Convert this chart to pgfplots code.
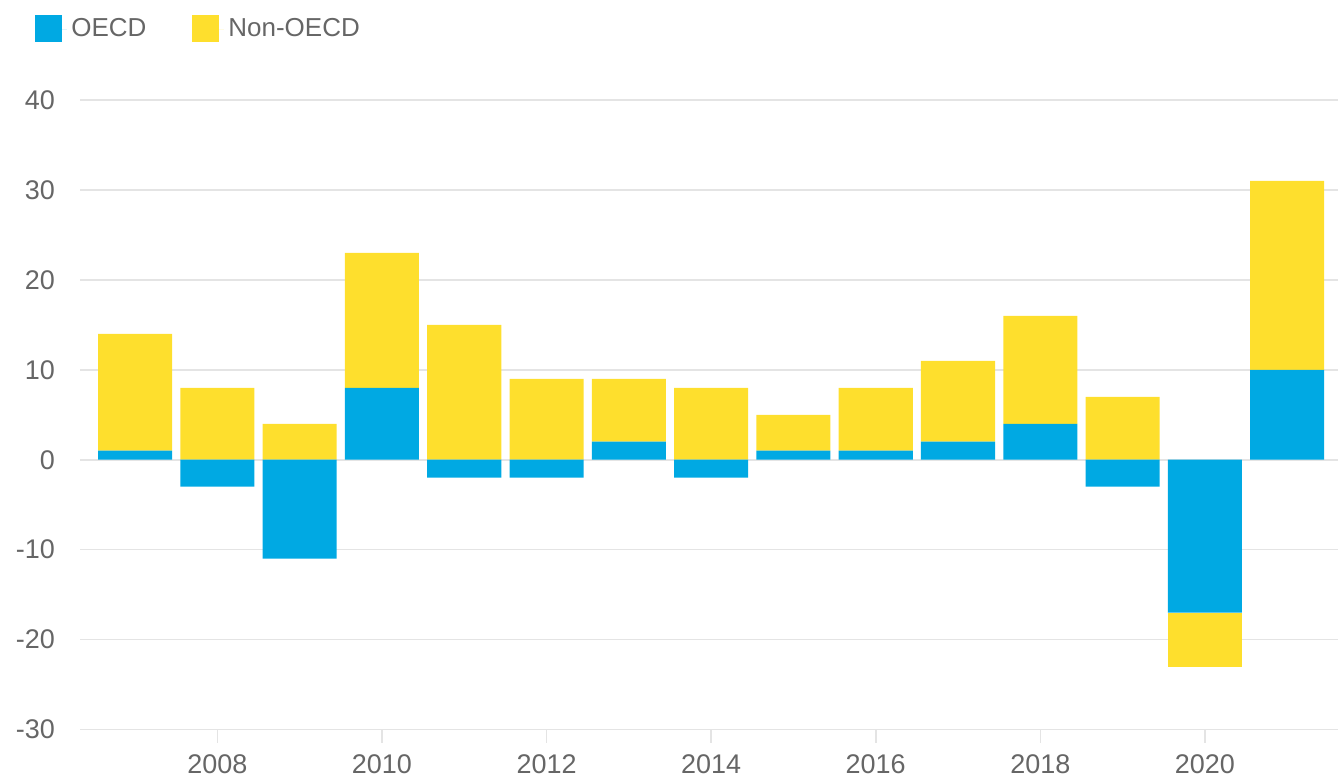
\documentclass[border=0pt]{standalone}
\usepackage{fontspec}
\setmainfont{Liberation Sans}
\usepackage{pgfplots}
\pgfplotsset{compat=1.18}
\usepackage{pgfplotstable}

\definecolor{oecdblue}{RGB}{0,169,227}
\definecolor{nonyellow}{RGB}{254,223,45}
\definecolor{txtgray}{RGB}{102,102,102}
\definecolor{gridgray}{RGB}{228,228,228}

% positive and negative parts, each stacked on its own from zero
\pgfplotstableread{
year oecdpos nonpos oecdneg nonneg
2007 1  13  0   0
2008 0  8   -3  0
2009 0  4   -11 0
2010 8  15  0   0
2011 0  15  -2  0
2012 0  9   -2  0
2013 2  7   0   0
2014 0  8   -2  0
2015 1  4   0   0
2016 1  7   0   0
2017 2  9   0   0
2018 4  12  0   0
2019 0  7   -3  0
2020 0  0   -17 -6
2021 10 21  0   0
}\growth

\pgfplotsset{
  growthframe/.style={
    scale only axis,
    width=629.5pt,
    height=315pt,
    ybar stacked,
    bar width=0.9,
    xmin=2006.33, xmax=2021.62,
    ymin=-30, ymax=40,
  },
}

\begin{document}
\begin{tikzpicture}
\begin{axis}[
  growthframe,
  ytick={-30,-20,...,40},
  xtick={2008,2010,...,2020},
  xticklabel style={/pgf/number format/1000 sep={}},
  /pgf/number format/assume math mode=true,
  axis x line*=bottom,
  axis y line*=left,
  axis line style={draw=none},
  ymajorgrids,
  major grid style={draw=gridgray, line width=0.8pt},
  ytick style={draw=none},
  xtick style={draw=gridgray, line width=0.8pt},
  xtick align=outside,
  major tick length=6.5pt,
  tick label style={font=\fontsize{13.5}{15}\selectfont, text=txtgray},
  yticklabel style={xshift=-9pt},
  xticklabel style={yshift=-2.5pt},
  legend style={
    at={(-0.0357,1.1127)}, anchor=west,
    draw=none, fill=none, inner sep=0pt,
    font=\fontsize{13}{15}\selectfont, text=txtgray,
    legend columns=2,
    /tikz/every even column/.append style={column sep=21pt},
  },
  legend image code/.code={%
    \path (0pt,0pt) rectangle (16pt,0pt);
    \fill[#1, draw=none] (0pt,-6.75pt) rectangle (13.5pt,6.75pt);},
]
\addplot[fill=oecdblue, draw=none] table[x=year, y=oecdpos] {\growth};
\addplot[fill=nonyellow, draw=none] table[x=year, y=nonpos] {\growth};
\legend{OECD, Non-OECD}
\coordinate (sw) at (rel axis cs:0,0);
\end{axis}
\begin{axis}[growthframe, hide axis]
\addplot[fill=oecdblue, draw=none] table[x=year, y=oecdneg] {\growth};
\addplot[fill=nonyellow, draw=none] table[x=year, y=nonneg] {\growth};
\end{axis}
\useasboundingbox ([xshift=-40pt, yshift=-23.5pt]sw) rectangle ++(669.5pt,388.5pt);
\end{tikzpicture}
\end{document}
